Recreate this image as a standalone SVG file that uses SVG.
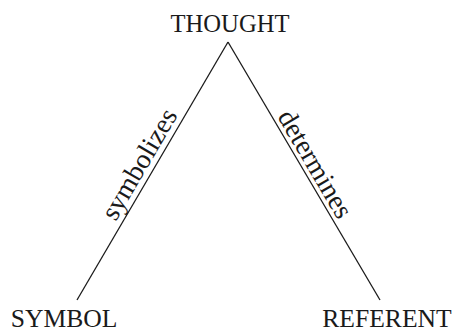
<svg xmlns="http://www.w3.org/2000/svg" width="456" height="331" viewBox="0 0 456 331">
  <style>
    .lbl { font-family: "Liberation Serif", "Times New Roman", serif; fill: #1a1a1a; }
    .node { font-size: 25.6px; }
    .edge-lbl { font-size: 27.5px; }
    .edge { stroke: #1a1a1a; stroke-width: 1.3; fill: none; }
  </style>
  <rect width="456" height="331" fill="#ffffff"/>
  <g id="connectors">
    <line class="edge" x1="228" y1="42" x2="77" y2="300"/>
    <line class="edge" x1="228" y1="42" x2="380" y2="300"/>
    <text class="lbl edge-lbl" text-anchor="middle" transform="translate(146.9,168.7) rotate(-59.7)">symbolizes</text>
    <text class="lbl edge-lbl" text-anchor="middle" transform="translate(307.5,168.6) rotate(59.5)">determines</text>
  </g>
  <g id="thought">
    <text class="lbl node" x="230" y="31.5" text-anchor="middle" textLength="119" lengthAdjust="spacingAndGlyphs">THOUGHT</text>
  </g>
  <g id="symbol">
    <text class="lbl node" x="10.7" y="327.3">SYMBOL</text>
  </g>
  <g id="referent">
    <text class="lbl node" x="322.3" y="327.3">REFERENT</text>
  </g>
</svg>
